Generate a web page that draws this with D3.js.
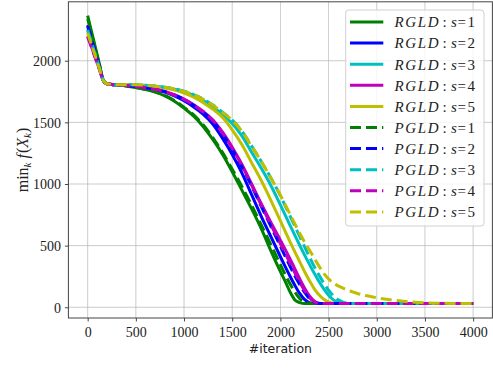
<!DOCTYPE html>
<html><head><meta charset="utf-8">
<script src="https://cdn.jsdelivr.net/npm/d3@7/dist/d3.min.js"></script>
<style>body{margin:0;background:#fff}svg{display:block}</style>
</head><body>
<svg id="c" width="493" height="369"></svg>
<script>
// ---- data ----
const iterations = [0,40,80,120,165,200,250,300,400,500,600,700,800,900,1000,1100,1200,1300,1400,1500,1600,1700,1800,1900,2000,2050,2100,2150,2200,2250,2300,2350,2400,2450,2500,2550,2600,2650,2700,2750,2800,2900,3000,3100,3200,3300,3400,3500,3600,3800,4000];

const rgld_s1 = [2365,2237,2108,1980,1835,1813,1807,1803,1795,1782,1766,1745,1715,1672,1615,1550,1465,1360,1240,1100,950,800,640,460,290,210,125,60,38,30,30,30,30,30,30,30,30,30,30,30,30,30,30,30,30,30,30,30,30,30,30];
const rgld_s2 = [2290,2180,2069,1959,1835,1813,1808,1805,1800,1792,1780,1765,1745,1715,1675,1625,1565,1485,1370,1240,1090,915,740,575,410,330,252,178,112,64,38,31,30,30,30,30,30,30,30,30,30,30,30,30,30,30,30,30,30,30,30];
const rgld_s3 = [2255,2153,2051,1950,1835,1813,1808,1805,1806,1805,1800,1793,1782,1768,1748,1718,1677,1625,1565,1490,1390,1260,1130,990,830,748,665,584,503,425,350,278,210,150,98,60,39,31,30,30,30,30,30,30,30,30,30,30,30,30,30];
const rgld_s4 = [2200,2112,2023,1935,1835,1813,1808,1805,1800,1790,1780,1766,1748,1722,1688,1643,1588,1520,1420,1298,1160,1002,842,690,545,470,392,312,232,157,94,52,33,30,30,30,30,30,30,30,30,30,30,30,30,30,30,30,30,30,30];
const rgld_s5 = [2240,2142,2044,1945,1835,1813,1808,1805,1806,1803,1798,1790,1778,1762,1738,1705,1660,1605,1540,1440,1320,1175,1030,870,700,615,530,450,370,290,218,152,102,65,43,33,30,30,30,30,30,30,30,30,30,30,30,30,30,30,30];

const pgld_s1 = [2340,2218,2095,1973,1835,1813,1807,1803,1795,1783,1768,1748,1720,1678,1622,1560,1478,1375,1255,1120,980,830,670,510,345,265,190,125,72,40,31,30,30,30,30,30,30,30,30,30,30,30,30,30,30,30,30,30,30,30,30];
const pgld_s2 = [2280,2172,2064,1956,1835,1813,1808,1805,1800,1792,1782,1768,1750,1722,1685,1638,1580,1510,1405,1280,1140,985,820,658,495,413,333,256,185,122,72,42,31,30,30,30,30,30,30,30,30,30,30,30,30,30,30,30,30,30,30];
const pgld_s3 = [2250,2149,2048,1948,1835,1813,1808,1805,1806,1806,1802,1795,1785,1772,1752,1725,1688,1640,1582,1518,1430,1310,1185,1050,905,822,740,658,575,492,410,332,262,196,138,92,60,42,33,30,30,30,30,30,30,30,30,30,30,30,30];
const pgld_s4 = [2195,2108,2020,1933,1835,1813,1808,1805,1800,1791,1781,1767,1749,1722,1687,1640,1584,1515,1412,1290,1152,994,830,672,515,437,358,280,205,137,80,45,31,30,30,30,30,30,30,30,30,30,30,30,30,30,30,30,30,30,30];
const pgld_s5 = [2225,2130,2036,1941,1835,1813,1808,1805,1806,1805,1801,1794,1784,1770,1750,1723,1686,1638,1580,1516,1428,1308,1185,1050,910,832,755,677,600,530,466,400,335,275,230,196,173,155,140,125,112,93,77,65,55,47,41,36,33,31,30];

const seriesLabels = ["RGLD","RGLD","RGLD","RGLD","RGLD","PGLD","PGLD","PGLD","PGLD","PGLD"];
const seriesS = [1,2,3,4,5,1,2,3,4,5];
const xTicks = [0,500,1000,1500,2000,2500,3000,3500,4000];
const yTicks = [0,500,1000,1500,2000];

// ---- styles ----
const palette = {1:"#008000",2:"#0000ff",3:"#00bfbf",4:"#bf00bf",5:"#bfbf00"};
const allSeries = [rgld_s1,rgld_s2,rgld_s3,rgld_s4,rgld_s5,pgld_s1,pgld_s2,pgld_s3,pgld_s4,pgld_s5];

const svg = d3.select("#c");
const L = 68.4, R = 492.4, T = 1.8, B = 318;
const x = d3.scaleLinear().domain([-200,4200]).range([L,R]);
const y = d3.scaleLinear().domain([-87,2478]).range([B,T]);

// grid
const g = svg.append("g");
g.selectAll(".vx").data(xTicks).join("line")
  .attr("x1",d=>x(d)).attr("x2",d=>x(d)).attr("y1",T).attr("y2",B)
  .attr("stroke","#b0b0b0").attr("stroke-width",0.8).attr("opacity",0.8);
g.selectAll(".hy").data(yTicks).join("line")
  .attr("x1",L).attr("x2",R).attr("y1",d=>y(d)).attr("y2",d=>y(d))
  .attr("stroke","#b0b0b0").attr("stroke-width",0.8).attr("opacity",0.8);

// lines
const line = d3.line().x((d,i)=>x(iterations[i])).y(d=>y(d)).curve(d3.curveMonotoneX);
allSeries.forEach((s,k)=>{
  svg.append("path").attr("d",line(s)).attr("fill","none")
    .attr("stroke",palette[seriesS[k]]).attr("stroke-width",3)
    .attr("stroke-linejoin","round")
    .attr("stroke-dasharray", k>=5 ? "11,5" : null);
});

// axes
const xAxis = d3.axisBottom(x).tickValues(xTicks).tickSize(3.5).tickPadding(5).tickFormat(d3.format("d"));
const yAxis = d3.axisLeft(y).tickValues(yTicks).tickSize(3.5).tickPadding(4).tickFormat(d3.format("d"));
const gx = svg.append("g").attr("transform",`translate(0,${B})`).call(xAxis);
const gy = svg.append("g").attr("transform",`translate(${L},0)`).call(yAxis);
[gx,gy].forEach(a=>{
  a.select(".domain").remove();
  a.selectAll(".tick line").attr("stroke","#333").attr("stroke-width",0.9);
  a.selectAll(".tick text").attr("font-family","'Liberation Serif', serif").attr("font-size",14).attr("fill","#222");
});
gx.selectAll(".tick text").attr("dy","0.71em").attr("y",9);
gy.selectAll(".tick text").attr("dy","0.34em");

// frame
svg.append("rect").attr("x",L).attr("y",T).attr("width",R-L).attr("height",B-T)
  .attr("fill","none").attr("stroke","#444").attr("stroke-width",1);

// axis labels
svg.append("text").attr("x",(L+R)/2).attr("y",353).attr("text-anchor","middle")
  .attr("font-family","'DejaVu Sans', sans-serif").attr("font-size",12.5).attr("fill","#222")
  .text("#iteration");
const yl = svg.append("text").attr("transform","translate(28,160) rotate(-90)")
  .attr("text-anchor","middle").attr("font-family","'Liberation Serif', serif")
  .attr("font-size",16).attr("fill","#222");
yl.append("tspan").text("min");
yl.append("tspan").attr("font-size",11).attr("font-style","italic").attr("dy",3).text("k");
yl.append("tspan").attr("dy",-3).attr("dx",4).attr("font-style","italic").text("f");
yl.append("tspan").attr("dx",1).text("(");
yl.append("tspan").attr("font-style","italic").text("X");
yl.append("tspan").attr("font-size",11).attr("font-style","italic").attr("dy",3).text("k");
yl.append("tspan").attr("dy",-3).text(")");

// legend
const lg = svg.append("g");
lg.append("rect").attr("x",345.7).attr("y",10).attr("width",138.3).attr("height",216).attr("rx",3)
  .attr("fill","#fff").attr("fill-opacity",0.8).attr("stroke","#d0d0d0").attr("stroke-width",1);
seriesLabels.forEach((lab,k)=>{
  const cy = 22 + k*21.1;
  lg.append("line").attr("x1",350).attr("x2",383.3).attr("y1",cy).attr("y2",cy)
    .attr("stroke",palette[seriesS[k]]).attr("stroke-width",3)
    .attr("stroke-dasharray", k>=5 ? "11,5" : null);
  const base = cy + 5.3;
  const f = "'Liberation Serif', serif";
  lg.append("text").attr("x",394.5).attr("y",base).attr("font-family",f).attr("font-style","italic")
    .attr("font-size",15).attr("textLength",44).attr("lengthAdjust","spacing").attr("fill","#222").text(lab);
  lg.append("text").attr("x",442.5).attr("y",base).attr("font-family",f).attr("font-size",15).attr("fill","#222").text(":");
  lg.append("text").attr("x",451).attr("y",base).attr("font-family",f).attr("font-style","italic").attr("font-size",15).attr("fill","#222").text("s");
  lg.append("text").attr("x",457.5).attr("y",base).attr("font-family",f).attr("font-size",15).attr("fill","#222").text("=");
  lg.append("text").attr("x",467.5).attr("y",base).attr("font-family",f).attr("font-size",15).attr("fill","#222").text(String(seriesS[k]));
});
</script>
</body></html>
